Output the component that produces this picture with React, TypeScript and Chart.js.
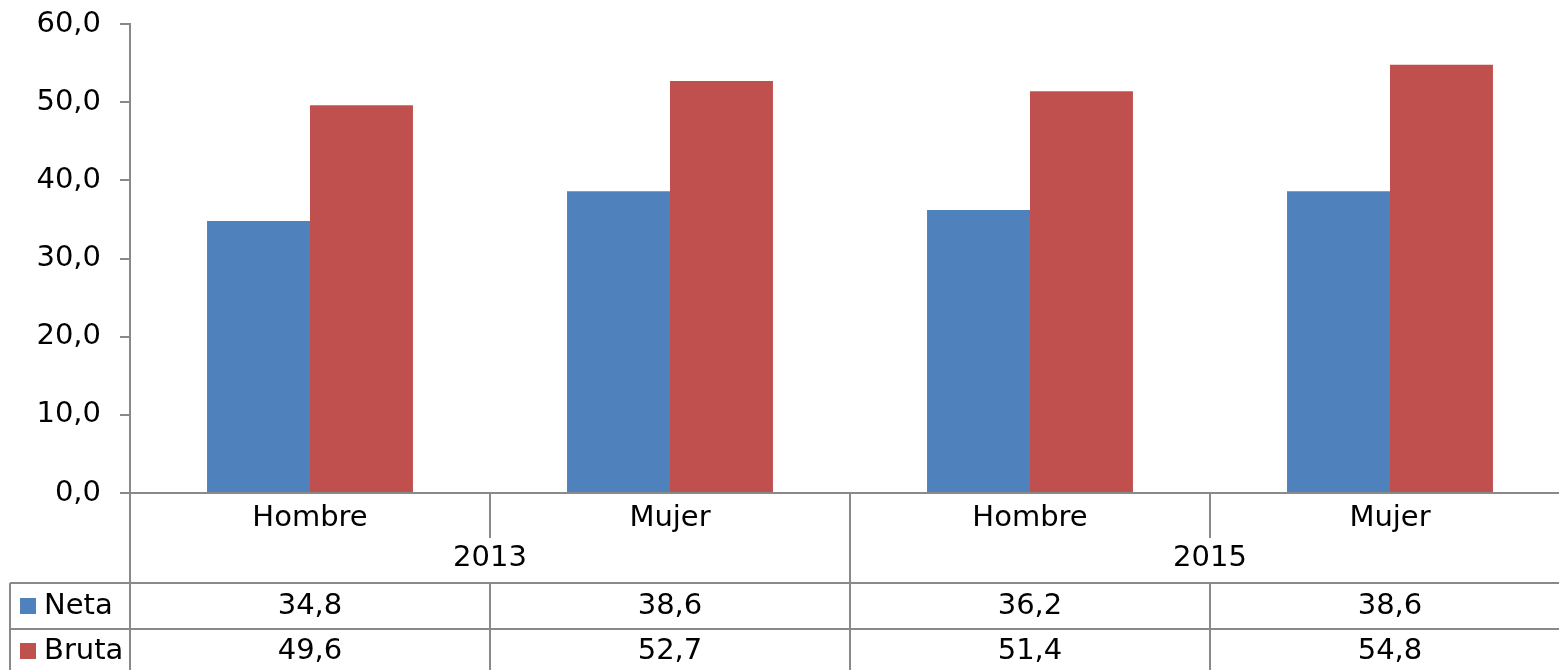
import React, { useEffect, useRef } from "react";
import { Chart, registerables } from "chart.js";

Chart.register(...registerables);

const categories = ["Hombre", "Mujer", "Hombre", "Mujer"];
const years = ["2013", "2015"];
const netaValues = [34.8, 38.6, 36.2, 38.6];
const brutaValues = [49.6, 52.7, 51.4, 54.8];
const seriesNames = ["Neta", "Bruta"];
const seriesColors = ["#4F81BD", "#C0504D"];
const yTicks = { min: 0, max: 60, step: 10 };

const FONT = "DejaVu Sans";
const FS = 29;
const GRID = "#898989";

const fmt = (v: number) => v.toFixed(1).replace(".", ",");

const tablePlugin = {
  id: "dataTable",
  afterDraw(chart: any) {
    const ctx = chart.ctx as CanvasRenderingContext2D;
    const area = chart.chartArea;
    const xs = chart.scales.x;
    const n = categories.length;
    const cw = (area.right - area.left) / n;
    const b = area.bottom;
    const H = chart.height;
    ctx.save();
    ctx.strokeStyle = GRID;
    ctx.lineWidth = 2;
    const line = (x1: number, y1: number, x2: number, y2: number) => {
      ctx.beginPath();
      ctx.moveTo(x1, y1);
      ctx.lineTo(x2, y2);
      ctx.stroke();
    };
    line(area.left - 10, b, chart.width, b);
    line(area.left, area.top, area.left, H);
    const rowLine1 = b + 90;
    const rowLine2 = b + 136;
    line(10, rowLine1, chart.width, rowLine1);
    line(10, rowLine2, chart.width, rowLine2);
    line(10, rowLine1, 10, H);
    for (let i = 1; i < n; i++) {
      const x = area.left + cw * i;
      if (i % 2 === 0) {
        line(x, b, x, H);
      } else {
        line(x, b, x, b + 45);
        line(x, rowLine1, x, H);
      }
    }
    ctx.fillStyle = "#000";
    ctx.font = `${FS}px "${FONT}"`;
    ctx.textAlign = "center";
    ctx.textBaseline = "middle";
    for (let i = 0; i < n; i++) {
      const cx = xs.getPixelForValue(i);
      ctx.fillText(categories[i], cx, b + 25);
      ctx.fillText(fmt(netaValues[i]), cx, b + 113);
      ctx.fillText(fmt(brutaValues[i]), cx, b + 158);
    }
    for (let j = 0; j < years.length; j++) {
      const cx = (xs.getPixelForValue(2 * j) + xs.getPixelForValue(2 * j + 1)) / 2;
      ctx.fillText(years[j], cx, b + 65);
    }
    ctx.textAlign = "left";
    const rowYs = [b + 113, b + 158];
    for (let s = 0; s < seriesNames.length; s++) {
      ctx.fillStyle = seriesColors[s];
      ctx.fillRect(20, rowYs[s] - 8, 16, 16);
      ctx.fillStyle = "#000";
      ctx.fillText(seriesNames[s], 44, rowYs[s]);
    }
    ctx.restore();
  },
};

export default function App() {
  const ref = useRef<HTMLCanvasElement | null>(null);
  useEffect(() => {
    if (!ref.current) return;
    Chart.defaults.font.family = FONT;
    Chart.defaults.font.size = FS;
    Chart.defaults.color = "#000";
    const chart = new Chart(ref.current, {
      type: "bar",
      data: {
        labels: categories,
        datasets: [
          {
            label: seriesNames[0],
            data: netaValues,
            backgroundColor: seriesColors[0],
            categoryPercentage: 0.572,
            barPercentage: 1,
          },
          {
            label: seriesNames[1],
            data: brutaValues,
            backgroundColor: seriesColors[1],
            categoryPercentage: 0.572,
            barPercentage: 1,
          },
        ],
      },
      options: {
        animation: false,
        responsive: true,
        maintainAspectRatio: false,
        layout: { padding: { top: 24, bottom: 177, left: 0, right: 0 } },
        plugins: { legend: { display: false }, tooltip: { enabled: false } },
        scales: {
          x: { display: false },
          y: {
            min: yTicks.min,
            max: yTicks.max,
            afterFit: (s: any) => {
              s.width = 130;
              s.paddingTop = 0;
              s.paddingBottom = 0;
            },
            ticks: {
              stepSize: yTicks.step,
              padding: 19,
              color: "#000",
              font: { family: FONT, size: FS },
              callback: (v: any) => fmt(Number(v)),
            },
            grid: {
              drawOnChartArea: false,
              drawTicks: true,
              tickLength: 10,
              color: GRID,
              lineWidth: 2,
            },
            border: { display: true, color: GRID, width: 2 },
          },
        },
      },
      plugins: [tablePlugin],
    });
    return () => chart.destroy();
  }, []);
  return (
    <div
      style={{
        position: "fixed",
        left: 0,
        top: 0,
        width: 1559,
        height: 670,
        overflow: "hidden",
        background: "#fff",
      }}
    >
      <div style={{ position: "relative", width: 1570, height: 670 }}>
        <canvas ref={ref} />
      </div>
    </div>
  );
}
